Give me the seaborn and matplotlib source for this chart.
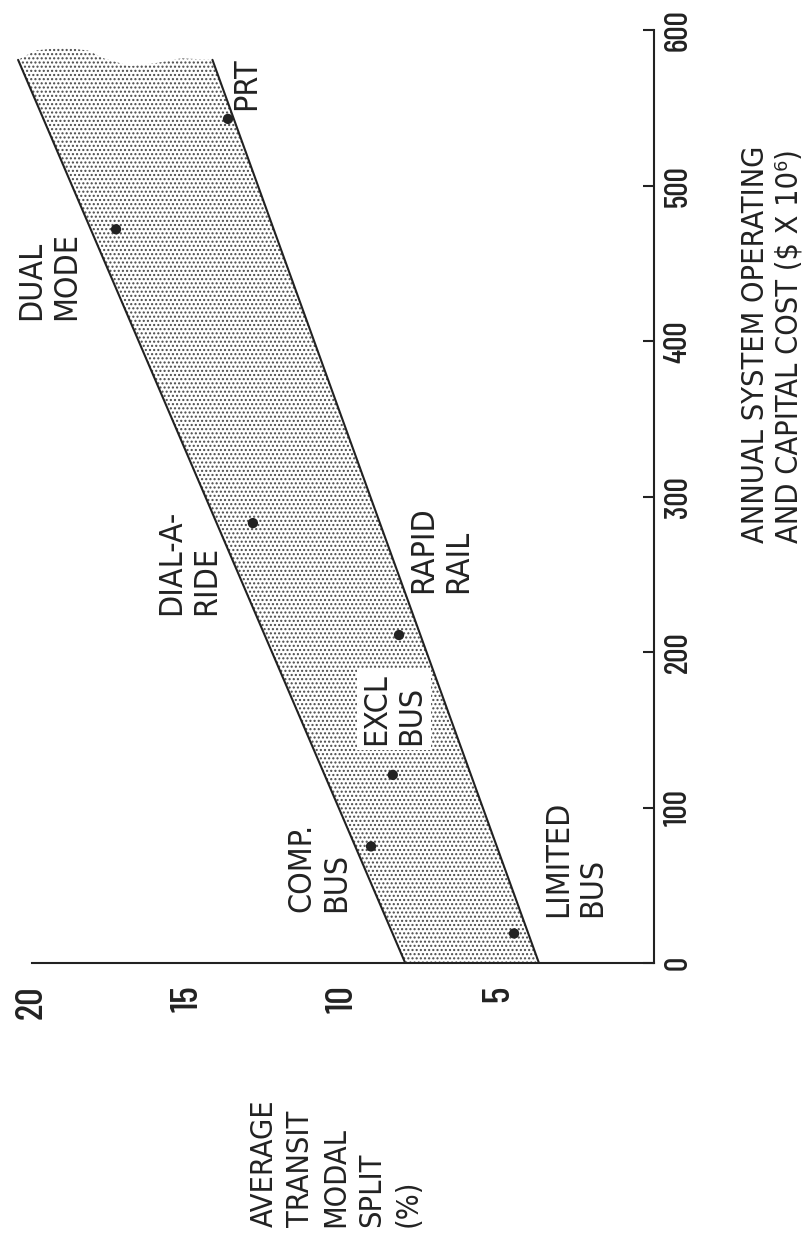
import matplotlib
matplotlib.use('Agg')
import matplotlib.pyplot as plt
import seaborn as sns

# one point per transit system: annual cost ($ x 10^6) and modal split (%)
systems = ['LIMITED BUS', 'COMP. BUS', 'EXCL BUS', 'RAPID RAIL', 'DIAL-A-RIDE', 'DUAL MODE', 'PRT']
cost = [19, 75, 121, 211, 283, 472, 543]
split = [4.5, 9.1, 8.4, 8.2, 12.9, 17.3, 13.7]

# edges of the shaded band
band_cost = [0, 581]
band_upper = [8.0, 20.45]
band_lower = [3.7, 14.2]
# ragged top of the shading, left to right
top_split = [20.45, 19.9, 19.0, 18.2, 17.7, 16.85, 16.0, 15.2, 14.2]
top_cost = [581, 587, 589, 587, 582, 577, 579, 582, 581]

cost_ticks = [0, 100, 200, 300, 400, 500, 600]
split_ticks = [5, 10, 15, 20]

# point labels, anchored at their lower-left corner (split, cost)
labels = ['LIMITED\nBUS', 'COMP.\nBUS', 'EXCL\nBUS', 'RAPID\nRAIL', 'DIAL-A-\nRIDE', 'DUAL\nMODE', 'PRT']
label_split = [3.57, 11.83, 9.42, 7.9, 16.0, 20.5, 13.6]
label_cost = [29.6, 33, 140, 238, 224, 413.5, 548.5]
boxed = ['EXCL\nBUS']

INK = '#222222'
NARROW = ['Barlow Condensed', 'DejaVu Sans']
GOTHIC = ['DejaVu Sans']

sns.set_style('white')
plt.rcParams['font.family'] = NARROW
plt.rcParams['hatch.linewidth'] = 1.0

fig = plt.figure(figsize=(8.11, 12.41), dpi=100)
# the page is printed turned on its side: cost runs up, split runs left
ax = fig.add_axes([1 / 811, 278 / 1241, 653 / 811, 956 / 1241])
ax.set_xlim(21, 0)
ax.set_ylim(0, 615)

# stippled band
poly_x = [band_lower[0], band_upper[0], band_upper[1]] + top_split[1:-1] + [band_lower[1]]
poly_y = [band_cost[0], band_cost[0], band_cost[1]] + top_cost[1:-1] + [band_cost[1]]
ax.fill(poly_x, poly_y, facecolor='white', edgecolor='#4a4a4a', linewidth=0, hatch='....', zorder=1)

sns.lineplot(x=band_upper, y=band_cost, sort=False, estimator=None, color=INK, lw=1.5, ax=ax, zorder=2)
sns.lineplot(x=band_lower, y=band_cost, sort=False, estimator=None, color=INK, lw=1.5, ax=ax, zorder=2)

sns.scatterplot(x=split, y=cost, s=55, color=INK, edgecolor='none', ax=ax, zorder=4)

for txt, sx, cy in zip(labels, label_split, label_cost):
    box = None
    if txt in boxed:
        box = dict(facecolor='white', edgecolor='none', pad=3)
    ax.text(sx, cy, txt, rotation=90, ha='left', va='bottom', fontsize=23,
            family=GOTHIC, fontstretch='condensed', linespacing=1.15,
            color=INK, bbox=box, zorder=3)

# axes
sns.despine(ax=ax, top=True, left=True, right=False, bottom=False)
ax.spines['right'].set_bounds(0, 600)
ax.spines['bottom'].set_bounds(0, 20)
for s in ['right', 'bottom']:
    ax.spines[s].set_linewidth(1.5)
    ax.spines[s].set_color(INK)

ax.set_xticks(split_ticks)
ax.set_yticks(cost_ticks)
ax.yaxis.tick_right()
ax.tick_params(axis='x', direction='in', length=13, width=1.5, pad=16,
               labelsize=28, labelrotation=90, colors=INK)
ax.tick_params(axis='y', direction='in', length=8, width=1.5, pad=7,
               labelsize=23, labelrotation=90, colors=INK)
for lbl in ax.get_yticklabels():
    lbl.set_va('center')
    lbl.set_fontweight('medium')
for lbl in ax.get_xticklabels():
    lbl.set_fontweight('medium')
ax.set_xlabel('')
ax.set_ylabel('')

ax.text(-2.8, 270, 'ANNUAL SYSTEM OPERATING\nAND CAPITAL COST ($ X 10⁶)',
        rotation=90, ha='left', va='bottom', fontsize=22, family=GOTHIC,
        fontstretch='condensed', linespacing=1.2, color=INK, clip_on=False)
ax.text(13.0, -170, 'AVERAGE\nTRANSIT\nMODAL\nSPLIT\n(%)', rotation=90,
        ha='left', va='bottom', fontsize=22, family=GOTHIC,
        fontstretch='condensed', linespacing=1.3, color=INK, clip_on=False)

fig.savefig('out.png', dpi=100)
